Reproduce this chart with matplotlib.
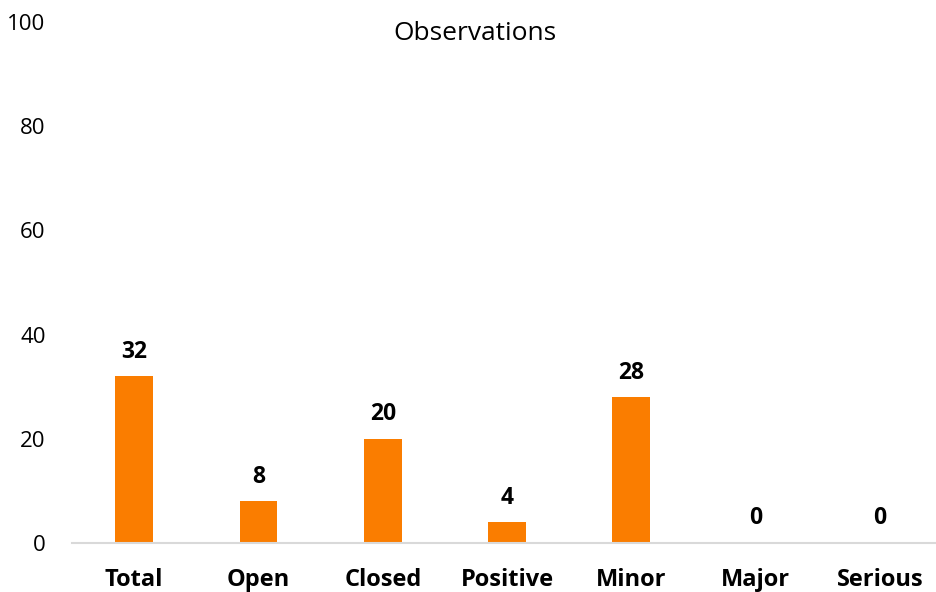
import matplotlib.pyplot as plt

categories = ['Total', 'Open', 'Closed', 'Positive', 'Minor', 'Major', 'Serious']
counts = [32, 8, 20, 4, 28, 0, 0]
yticks = [0, 20, 40, 60, 80, 100]

plt.rcParams['font.family'] = ['Open Sans', 'DejaVu Sans']

fig = plt.figure(figsize=(9.36, 5.92), dpi=100)
ax = fig.add_axes([72 / 936, 49 / 592, 864 / 936, 521 / 592])

x = range(len(categories))
bars = ax.bar(x, counts, width=0.305, color='#FA7D00')

for i, v in enumerate(counts):
    ax.annotate(str(v), (i, v), xytext=(0, 9), textcoords='offset points',
                ha='center', va='bottom', fontsize=16.5, fontweight='bold')

ax.set_xlim(-0.5, 6.45)
ax.set_ylim(0, 100)
ax.set_yticks(yticks)
ax.set_xticks(list(x))
ax.set_xticklabels(categories, fontsize=17, fontweight='bold')
ax.tick_params(axis='x', length=0, pad=18)
ax.tick_params(axis='y', length=0, pad=19, labelsize=16)

for s in ['top', 'right', 'left']:
    ax.spines[s].set_visible(False)
ax.spines['bottom'].set_color('#D9D9D9')
ax.spines['bottom'].set_linewidth(1.5)

fig.text(475 / 936, 1 - 34 / 592, 'Observations', ha='center', va='center', fontsize=19)

fig.savefig('out.png', dpi=100)
